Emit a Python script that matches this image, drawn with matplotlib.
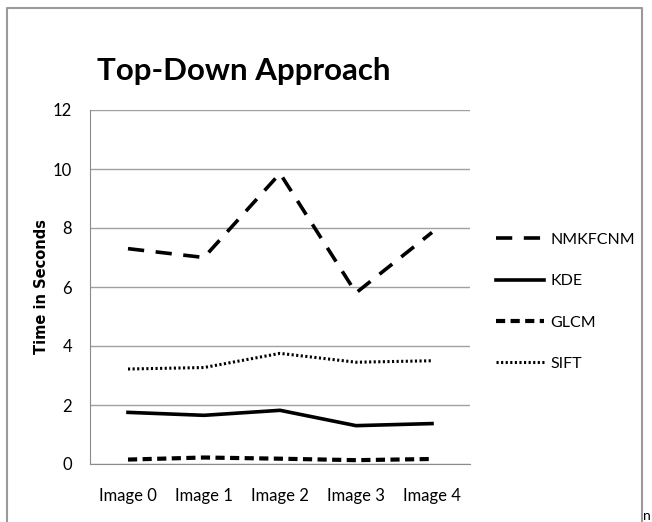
import matplotlib.pyplot as plt
import numpy as np

# Timing results per image
images = ["Image 0", "Image 1", "Image 2", "Image 3", "Image 4"]
nmkfcnm = [7.3, 7.0, 9.85, 5.8, 7.85]
kde = [1.75, 1.65, 1.82, 1.3, 1.37]
glcm = [0.15, 0.22, 0.18, 0.13, 0.17]
sift = [3.22, 3.27, 3.75, 3.45, 3.5]

plt.rcParams['font.family'] = ['Lato', 'DejaVu Sans']

fig = plt.figure(figsize=(6.52, 5.22), dpi=100)
ax = fig.add_axes([90 / 652, 1 - 464 / 522, 380 / 652, 354 / 522])

# outer chart border (open at the bottom)
fig.add_artist(plt.Line2D([7 / 652, 7 / 652, 642 / 652, 642 / 652],
                          [0, 1 - 8 / 522, 1 - 8 / 522, 0],
                          transform=fig.transFigure, color='#9a9a9a', lw=1.5))

x = np.arange(len(images))
ax.plot(x, nmkfcnm, color='black', lw=2.6, dashes=(4.5, 3.2), label='NMKFCNM')
ax.plot(x, kde, color='black', lw=2.6, label='KDE')
ax.plot(x, glcm, color='black', lw=3.0, dashes=(2.2, 1.3), label='GLCM')
ax.plot(x, sift, color='black', lw=2.2, dashes=(0.7, 0.8), label='SIFT')

ax.set_xlim(-0.5, 4.5)
ax.set_ylim(0, 12)
ax.set_yticks(range(0, 13, 2))
ax.set_xticks(x)
ax.set_xticklabels(images)
ax.grid(axis='y', color='#a0a0a0', lw=1.0)
ax.set_axisbelow(True)
for side in ['top', 'right']:
    ax.spines[side].set_visible(False)
ax.spines['left'].set_color('#8c8c8c')
ax.spines['bottom'].set_color('#8c8c8c')
ax.tick_params(axis='both', length=0, labelsize=12)
ax.tick_params(axis='y', pad=13)
ax.tick_params(axis='x', pad=17)

ax.set_ylabel('Time in Seconds', family='DejaVu Sans', fontweight='bold',
              fontsize=10.5, labelpad=3)

fig.text(97 / 652, 1 - 71 / 522, 'Top-Down Approach', fontsize=22.5,
         fontweight='bold', va='center', ha='left')

ax.legend(loc='center left', bbox_to_anchor=(1.03, 0.458), frameon=False,
          fontsize=11.5, handlelength=3.0, handletextpad=0.4, labelspacing=1.7)

fig.text(643 / 652, 1 - 516 / 522, 'n', fontsize=10, va='center', ha='left')

fig.savefig('out.png', dpi=100)
